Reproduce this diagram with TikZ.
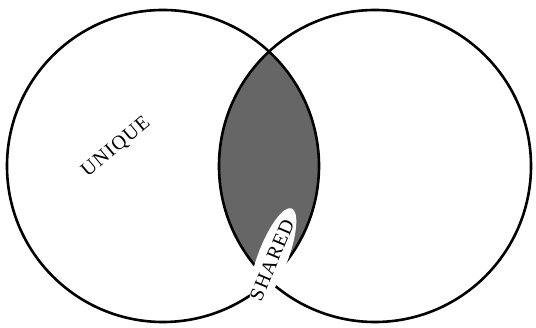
\documentclass[tikz,border=0pt]{standalone}
\usepackage{fontspec}
\setmainfont{Liberation Serif}
\usetikzlibrary{shapes.geometric}
\tikzset{
  ring/.style={draw=black, line width=2.6pt},
  lens/.style={fill=black!60},
  label/.style={font=\fontsize{20}{20}\selectfont\addfontfeature{LetterSpace=6}, inner sep=0pt},
  blank/.style={ellipse, fill=white, draw=none, inner sep=0pt}
}
\begin{document}
\begin{tikzpicture}[x=1pt,y=-1pt]
\useasboundingbox (0,0) rectangle (536,328);
\coordinate (cl) at (163,166);
\coordinate (cr) at (375,166);
\begin{scope}
  \clip (cl) circle [radius=156];
  \fill[lens] (cr) circle [radius=156];
\end{scope}
\draw[ring] (cl) circle [radius=156];
\draw[ring] (cr) circle [radius=156];
\node[blank, rotate=69, minimum width=104pt, minimum height=30pt] (hole) at (273,257) {};
\node[label, rotate=67] (shared) at (272,260) {SHARED};
\node[label, rotate=40] (unique) at (116,147) {UNIQUE};
\end{tikzpicture}
\end{document}
